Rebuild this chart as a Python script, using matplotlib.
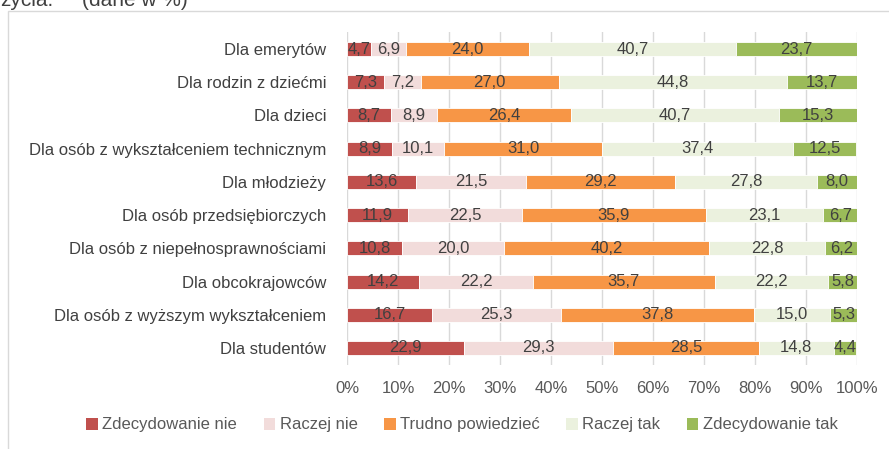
import matplotlib
matplotlib.use("Agg")
import matplotlib.pyplot as plt
from matplotlib.patches import Rectangle, Patch

plt.rcParams["font.family"] = ["Liberation Sans", "DejaVu Sans"]

categories = [
    "Dla emerytów",
    "Dla rodzin z dziećmi",
    "Dla dzieci",
    "Dla osób z wykształceniem technicznym",
    "Dla młodzieży",
    "Dla osób przedsiębiorczych",
    "Dla osób z niepełnosprawnościami",
    "Dla obcokrajowców",
    "Dla osób z wyższym wykształceniem",
    "Dla studentów",
]
series_names = ["Zdecydowanie nie", "Raczej nie", "Trudno powiedzieć", "Raczej tak", "Zdecydowanie tak"]
zdecydowanie_nie = [4.7, 7.3, 8.7, 8.9, 13.6, 11.9, 10.8, 14.2, 16.7, 22.9]
raczej_nie = [6.9, 7.2, 8.9, 10.1, 21.5, 22.5, 20.0, 22.2, 25.3, 29.3]
trudno_powiedziec = [24.0, 27.0, 26.4, 31.0, 29.2, 35.9, 40.2, 35.7, 37.8, 28.5]
raczej_tak = [40.7, 44.8, 40.7, 37.4, 27.8, 23.1, 22.8, 22.2, 15.0, 14.8]
zdecydowanie_tak = [23.7, 13.7, 15.3, 12.5, 8.0, 6.7, 6.2, 5.8, 5.3, 4.4]
tick_labels = ["0%", "10%", "20%", "30%", "40%", "50%", "60%", "70%", "80%", "90%", "100%"]

series = [zdecydowanie_nie, raczej_nie, trudno_powiedziec, raczej_tak, zdecydowanie_tak]
colors = ["#C0504D", "#F2DCDB", "#F79646", "#EBF1DE", "#9BBB59"]
text_color = "#404040"

W, H = 889, 449
fig = plt.figure(figsize=(W / 100, H / 100), dpi=100)

# chart frame
fig.patches.append(Rectangle((8 / W, -0.1), 1.2, 1 - 11 / H + 0.1, transform=fig.transFigure,
                             facecolor="none", edgecolor="#D9D9D9", linewidth=1.0, zorder=-1))

# tail of the caption above the chart
fig.text(0.0, 1 - 6 / H, "życia.", fontsize=15, color="#404040", ha="left", va="baseline")
fig.text(82 / W, 1 - 6 / H, "(dane w %)", fontsize=15, color="#404040", ha="left", va="baseline")

ax = fig.add_axes([347 / W, 1 - 364.6 / H, 510 / W, 332.2 / H])
ax.set_facecolor("none")

y = list(range(len(categories)))
left = [0.0] * len(categories)
for vals, col in zip(series, colors):
    ax.barh(y, vals, left=left, height=0.42, color=col, edgecolor="white",
            linewidth=0.6, zorder=2)
    for yi, (l, v) in enumerate(zip(left, vals)):
        ax.text(l + v / 2, yi, f"{v:.1f}".replace(".", ","), ha="center", va="center",
                fontsize=12, color=text_color, zorder=3)
    left = [l + v for l, v in zip(left, vals)]

ax.set_xlim(0, 100)
ax.set_ylim(len(categories) - 0.5, -0.5)
ax.set_yticks(y)
ax.set_yticklabels(categories, fontsize=12, color=text_color)
ax.set_xticks(range(0, 101, 10))
ax.set_xticklabels(tick_labels, fontsize=12, color="#595959")
ax.tick_params(axis="both", length=0)
ax.tick_params(axis="x", pad=12)
ax.tick_params(axis="y", pad=15)
ax.grid(axis="x", color="#D9D9D9", linewidth=1.0, zorder=0)
ax.set_axisbelow(True)
for s in ax.spines.values():
    s.set_visible(False)

handles = [Patch(facecolor=c, edgecolor="none") for c in colors]
fig.legend(handles, series_names, loc="center", bbox_to_anchor=(462 / W, 1 - 425 / H), ncol=5,
           frameon=False, fontsize=12, labelcolor="#595959", handlelength=0.7,
           handleheight=0.7, handletextpad=0.25, columnspacing=1.6)

fig.savefig("out.png", dpi=100)
